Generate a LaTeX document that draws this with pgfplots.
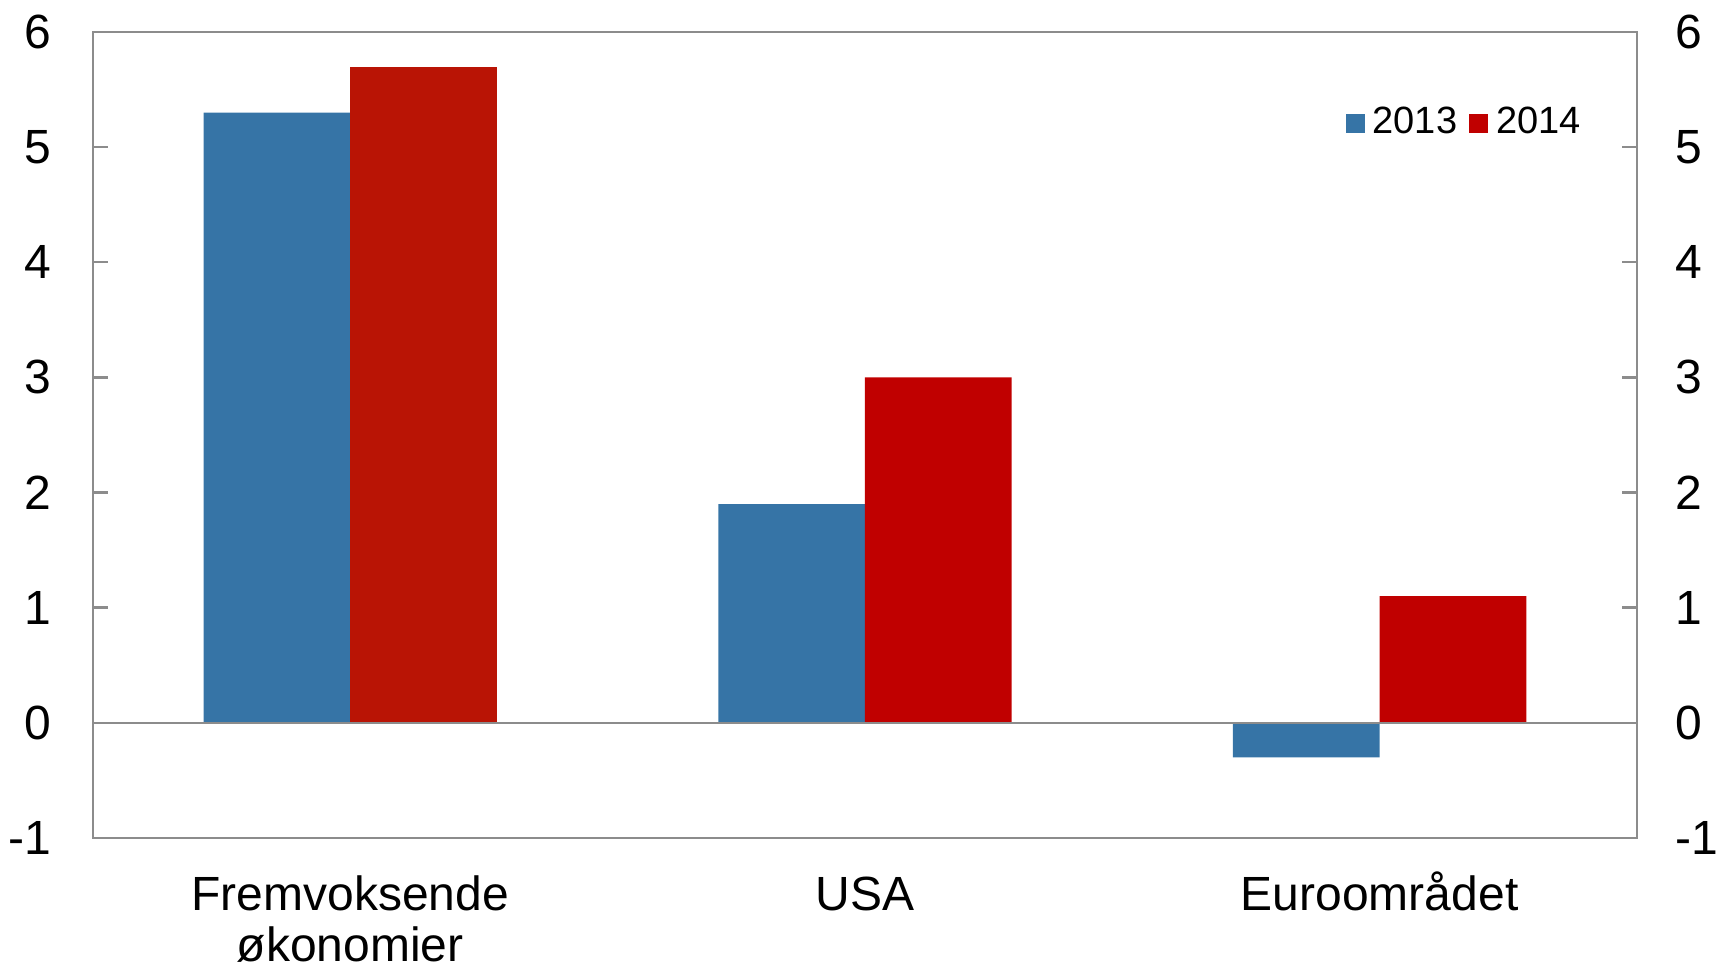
\documentclass[border=0pt]{standalone}
\usepackage{pgfplots}
\pgfplotsset{compat=1.18}
\usepackage{fontspec}
\setmainfont{Liberation Sans}

\definecolor{nbblue}{HTML}{3674A6}
\definecolor{nbred}{HTML}{C00000}
\definecolor{nbredA}{HTML}{B91405}
\definecolor{axgray}{HTML}{8C8C8C}

\newcommand{\lstrut}{\rule{0pt}{10pt}}

\begin{document}
\begin{tikzpicture}
\begin{axis}[
    name=main,
    scale only axis,
    width=386pt, height=201.5pt,
    xmin=-0.5, xmax=2.5,
    ymin=-1, ymax=6,
    ybar=0pt,
    bar width=0.285,
    xtick={0,1,2},
    xticklabels={\lstrut Fremvoksende\\økonomier, \lstrut USA, \lstrut Euroområdet},
    xticklabel style={align=center, font=\fontsize{12}{12.9}\selectfont, yshift=-4.5pt},
    major x tick style={draw=none},
    ytick={-1,0,...,6},
    yticklabels={-1,0,1,2,3,4,5,6},
    yticklabel style={font=\fontsize{12}{14}\selectfont, xshift=-7pt},
    ytick pos=left,
    tick align=inside,
    major tick length=3.7pt,
    axis line style={axgray, line width=0.6pt},
    every tick/.style={axgray, line width=0.6pt},
    legend columns=2,
    legend style={draw=none, fill=none, at={(0.977,0.887)}, anchor=east,
        font=\fontsize{9.5}{11}\selectfont,
        /tikz/every even column/.append style={column sep=1pt}},
    legend image code/.code={\fill[#1] (0pt,-2.4pt) rectangle (4.75pt,2.35pt);},
]
\addplot[fill=nbblue, draw=none] coordinates {(0,5.3) (1,1.9) (2,-0.3)};
\addplot[fill=nbred, draw=none] coordinates {(0,0) (1,3.0) (2,1.1)};
\addplot[fill=nbredA, draw=none, forget plot, bar shift=0.1425] coordinates {(0,5.7)};
\addplot[axgray, line width=0.6pt, forget plot, sharp plot] coordinates {(-0.5,0) (2.5,0)};
\legend{2013,2014}
\end{axis}
\begin{axis}[
    scale only axis,
    width=386pt, height=201.5pt,
    xmin=-0.5, xmax=2.5,
    ymin=-1, ymax=6,
    axis x line=none,
    axis y line*=right,
    ytick={-1,0,...,6},
    yticklabels={-1,0,1,2,3,4,5,6},
    yticklabel style={font=\fontsize{12}{14}\selectfont, xshift=6pt},
    tick align=inside,
    major tick length=3.7pt,
    axis line style={axgray, line width=0.6pt},
    every tick/.style={axgray, line width=0.6pt},
]
\end{axis}
\pgfresetboundingbox
\path[use as bounding box] ([xshift=-23.25pt, yshift=-33.25pt]main.south west) rectangle ([xshift=20pt, yshift=8pt]main.north east);
\end{tikzpicture}
\end{document}
